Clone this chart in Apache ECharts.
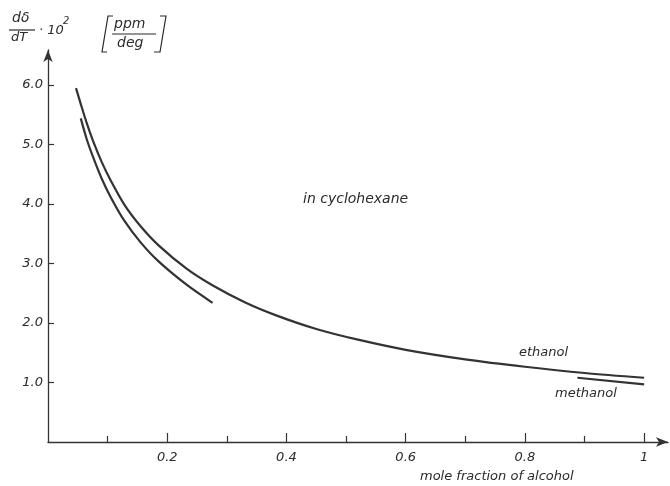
<!DOCTYPE html>
<html>
<head>
<meta charset="utf-8">
<script src="https://cdn.jsdelivr.net/npm/echarts@6/dist/echarts.min.js"></script>
<style>html,body{margin:0;padding:0;background:#fff;}#c{width:670px;height:486px;}</style>
</head>
<body>
<div id="c"></div>
<script>
// ---- data ----
var xMajorTicks = [0.2, 0.4, 0.6, 0.8, 1];
var xMinorTicks = [0.1, 0.3, 0.5, 0.7, 0.9];
var yTicks = [1, 2, 3, 4, 5, 6];

var ethanolX = [0.047, 0.055, 0.065, 0.076, 0.090, 0.105, 0.128, 0.155, 0.185, 0.233, 0.275, 0.330, 0.385, 0.45, 0.52, 0.60, 0.70, 0.80, 0.90, 1.00];
var ethanolY = [5.95, 5.68, 5.36, 5.05, 4.71, 4.40, 3.99, 3.63, 3.31, 2.91, 2.64, 2.35, 2.12, 1.90, 1.72, 1.55, 1.39, 1.265, 1.16, 1.08];

var methanolLeftX = [0.055, 0.065, 0.076, 0.090, 0.105, 0.128, 0.155, 0.185, 0.233, 0.276];
var methanolLeftY = [5.44, 5.09, 4.78, 4.43, 4.12, 3.72, 3.36, 3.04, 2.64, 2.34];
var methanolRightX = [0.888, 1.0];
var methanolRightY = [1.08, 0.97];

function pairs(xs, ys) { return xs.map(function (x, i) { return [x, ys[i]]; }); }

var FONT = 'DejaVu Sans';
var TXT = '#2b2b2b';
var LINE = '#333';

var chart = echarts.init(document.getElementById('c'), null, {renderer: 'canvas'});
chart.setOption({
  animation: false,
  backgroundColor: '#ffffff',
  grid: {left: 48, top: 50, width: 620, height: 392, containLabel: false},
  xAxis: [{
    type: 'value', min: 0, max: 1.04,
    axisLine: {show: true, lineStyle: {color: LINE, width: 1.3}, symbol: ['none', 'arrow'], symbolSize: [7, 12]},
    axisTick: {show: true, inside: true, length: 9, customValues: xMajorTicks, lineStyle: {color: LINE, width: 1.2}},
    axisLabel: {show: true, customValues: xMajorTicks, margin: 9, color: TXT, fontFamily: FONT, fontStyle: 'italic', fontSize: 13,
      formatter: function (v) { return v === 1 ? '1' : v.toFixed(1); }},
    splitLine: {show: false}
  }, {
    type: 'value', min: 0, max: 1.04, position: 'bottom',
    axisLine: {show: false},
    axisTick: {show: true, inside: true, length: 6, customValues: xMinorTicks, lineStyle: {color: LINE, width: 1.2}},
    axisLabel: {show: false},
    splitLine: {show: false}
  }],
  yAxis: {
    type: 'value', min: 0, max: 6.59,
    axisLine: {show: true, lineStyle: {color: LINE, width: 1.3}, symbol: ['none', 'arrow'], symbolSize: [7, 12]},
    axisTick: {show: true, inside: true, length: 6, customValues: yTicks, lineStyle: {color: LINE, width: 1.2}},
    axisLabel: {show: true, customValues: yTicks, margin: 5, color: TXT, fontFamily: FONT, fontStyle: 'italic', fontSize: 13,
      formatter: function (v) { return v.toFixed(1); }},
    splitLine: {show: false}
  },
  series: [{
    name: 'ethanol', type: 'line', smooth: 0.3, symbol: 'none',
    lineStyle: {color: LINE, width: 2.2}, data: pairs(ethanolX, ethanolY)
  }, {
    name: 'methanol', type: 'line', smooth: 0.3, symbol: 'none',
    lineStyle: {color: LINE, width: 2.2}, data: pairs(methanolLeftX, methanolLeftY)
  }, {
    name: 'methanol', type: 'line', smooth: false, symbol: 'none',
    lineStyle: {color: LINE, width: 2.2}, data: pairs(methanolRightX, methanolRightY)
  }],
  graphic: [
    {type: 'text', left: 303, top: 192, style: {text: 'in cyclohexane', fill: TXT, font: 'italic 14px "DejaVu Sans"'}},
    {type: 'text', left: 519, top: 346, style: {text: 'ethanol', fill: TXT, font: 'italic 13px "DejaVu Sans"'}},
    {type: 'text', left: 555, top: 387, style: {text: 'methanol', fill: TXT, font: 'italic 13px "DejaVu Sans"'}},
    {type: 'text', left: 420, top: 470, style: {text: 'mole fraction of alcohol', fill: TXT, font: 'italic 13px "DejaVu Sans"'}},
    // y-axis title: dδ/dT · 10^2 [ppm/deg]
    {type: 'text', left: 12, top: 11, style: {text: 'd\u03B4', fill: TXT, font: 'italic 14px "DejaVu Sans"'}},
    {type: 'line', shape: {x1: 9, y1: 30, x2: 35, y2: 30}, style: {stroke: TXT, lineWidth: 1.2}},
    {type: 'text', left: 11, top: 31, style: {text: 'dT', fill: TXT, font: 'italic 13px "DejaVu Sans"'}},
    {type: 'text', left: 39, top: 24, style: {text: '\u00B7 10', fill: TXT, font: 'italic 13px "DejaVu Sans"'}},
    {type: 'text', left: 63, top: 16, style: {text: '2', fill: TXT, font: 'italic 10px "DejaVu Sans"'}},
    {type: 'polyline', shape: {points: [[113, 16], [108, 16], [102, 52], [107, 52]]}, style: {stroke: TXT, lineWidth: 1.2, fill: null}},
    {type: 'text', left: 114, top: 17, style: {text: 'ppm', fill: TXT, font: 'italic 14px "DejaVu Sans"'}},
    {type: 'line', shape: {x1: 112, y1: 34, x2: 156, y2: 34}, style: {stroke: TXT, lineWidth: 1.2}},
    {type: 'text', left: 117, top: 36, style: {text: 'deg', fill: TXT, font: 'italic 14px "DejaVu Sans"'}},
    {type: 'polyline', shape: {points: [[160, 16], [166, 16], [160, 52], [154, 52]]}, style: {stroke: TXT, lineWidth: 1.2, fill: null}}
  ]
});
</script>
</body>
</html>
